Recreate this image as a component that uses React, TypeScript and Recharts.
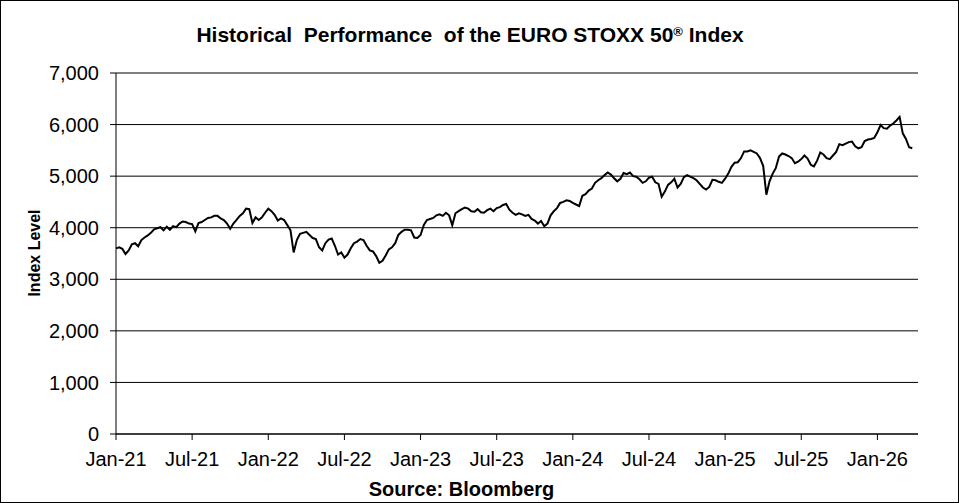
import React from "react";
import { LineChart, Line, XAxis, YAxis, CartesianGrid } from "recharts";

// index level, four readings per month (roughly weekly), Jan-21 .. Mar-26
const y2021 = [
  3600, 3620, 3590, 3490, 3560, 3680, 3700, 3640, 3760, 3810, 3850, 3900,
  3970, 3990, 4010, 3950, 4020, 3960, 4030, 4010, 4080, 4120, 4110, 4080,
  4070, 3930, 4090, 4110, 4150, 4190, 4200, 4230, 4230, 4180, 4150, 4080,
  3980, 4080, 4150, 4230, 4280, 4370, 4360, 4090, 4200, 4150, 4200, 4290,
];
const y2022 = [
  4370, 4320, 4250, 4140, 4180, 4150, 4050, 3950, 3520, 3760, 3880, 3900,
  3920, 3860, 3800, 3780, 3620, 3560, 3700, 3770, 3790, 3650, 3480, 3520,
  3420, 3480, 3600, 3700, 3730, 3780, 3760, 3650, 3560, 3540, 3450, 3320,
  3360, 3460, 3580, 3620, 3700, 3860, 3920, 3960, 3960, 3950, 3810, 3800,
];
const y2023 = [
  3860, 4050, 4150, 4170, 4190, 4240, 4260, 4230, 4290, 4240, 4050, 4280,
  4320, 4360, 4390, 4370, 4320, 4310, 4360, 4300, 4290, 4340, 4370, 4320,
  4380, 4400, 4440, 4460, 4350, 4290, 4250, 4280, 4260, 4230, 4250, 4170,
  4140, 4080, 4130, 4030, 4080, 4240, 4320, 4380, 4480, 4500, 4530, 4520,
];
const y2024 = [
  4480, 4450, 4420, 4620, 4650, 4720, 4760, 4870, 4920, 4960, 5020, 5070,
  5030, 4960, 4900, 4950, 5060, 5040, 5070, 5000, 4990, 4940, 4870, 4900,
  4970, 4990, 4880, 4850, 4600, 4700, 4830, 4880, 4950, 4780, 4850, 4980,
  5020, 4990, 4960, 4920, 4850, 4780, 4740, 4790, 4930, 4920, 4890, 4870,
];
const y2025 = [
  4950, 5050, 5180, 5260, 5270, 5350, 5480, 5480, 5500, 5470, 5440, 5350,
  5200, 4640, 4900, 5050, 5160, 5380, 5440, 5420, 5390, 5350, 5250, 5280,
  5330, 5400, 5340, 5220, 5190, 5300, 5460, 5420, 5350, 5330, 5400, 5470,
  5620, 5600, 5630, 5660, 5670, 5580, 5540, 5560, 5680, 5710, 5720, 5740,
];
const y2026 = [5850, 5990, 5930, 5920, 5980, 6020, 6080, 6150, 5830, 5720, 5560, 5540];

const tickMonths = [0, 6, 12, 18, 24, 30, 36, 42, 48, 54, 60];
const tickLabels = [
  "Jan-21", "Jul-21", "Jan-22", "Jul-22", "Jan-23", "Jul-23",
  "Jan-24", "Jul-24", "Jan-25", "Jul-25", "Jan-26",
];
const yTicks = [0, 1000, 2000, 3000, 4000, 5000, 6000, 7000];

const levels = [...y2021, ...y2022, ...y2023, ...y2024, ...y2025, ...y2026];
const data = levels.map((v, i) => ({ m: i / 4, v }));

const font = '"Liberation Sans", Arial, sans-serif';

export default function App() {
  return (
    <div style={{ position: "absolute", left: 0, top: 0, width: 959, height: 503, background: "#fff", fontFamily: font }}>
      <LineChart
        width={959}
        height={503}
        data={data}
        margin={{ top: 73, right: 41, bottom: 39, left: 0 }}
      >
        <CartesianGrid vertical={false} stroke="#000" strokeWidth={1} />
        <XAxis
          dataKey="m"
          type="number"
          domain={[0, 63.2]}
          ticks={tickMonths}
          tickFormatter={(m) => tickLabels[tickMonths.indexOf(m)] ?? ""}
          height={30}
          tickSize={6}
          tickMargin={12}
          stroke="#000"
          tick={{ fill: "#000", fontSize: 20, fontFamily: font }}
          interval={0}
        />
        <YAxis
          domain={[0, 7000]}
          ticks={yTicks}
          width={116}
          tickSize={6}
          tickMargin={11}
          stroke="#000"
          tickFormatter={(v) => v.toLocaleString("en-US")}
          tick={{ fill: "#000", fontSize: 20, fontFamily: font }}
          interval={0}
        />
        <Line
          dataKey="v"
          type="linear"
          stroke="#000"
          strokeWidth={2}
          dot={false}
          isAnimationActive={false}
        />
      </LineChart>
      <div
        style={{
          position: "absolute", left: 0, top: 24, width: 940, textAlign: "center",
          fontSize: 21, lineHeight: "21px", fontWeight: "bold", whiteSpace: "pre",
        }}
      >
        {"Historical  Performance  of the EURO STOXX 50"}
        <sup style={{ fontSize: 13, verticalAlign: "6px", lineHeight: 0 }}>®</sup>
        {" Index"}
      </div>
      <div
        style={{
          position: "absolute", left: 25, top: 253, width: 0, height: 0,
        }}
      >
        <div
          style={{
            position: "absolute", left: -60, top: -8, width: 120, textAlign: "center",
            fontSize: 16, lineHeight: "16px", fontWeight: "bold", transform: "rotate(-90deg)",
            transformOrigin: "60px 8px", marginLeft: 10,
          }}
        >
          Index Level
        </div>
      </div>
      <div
        style={{
          position: "absolute", left: 0, top: 479, width: 923, textAlign: "center",
          fontSize: 20, lineHeight: "20px", fontWeight: "bold",
        }}
      >
        Source: Bloomberg
      </div>
      <div
        style={{
          position: "absolute", left: 0, top: 0, width: 959, height: 503,
          border: "1px solid #000", boxSizing: "border-box", pointerEvents: "none",
        }}
      />
    </div>
  );
}
